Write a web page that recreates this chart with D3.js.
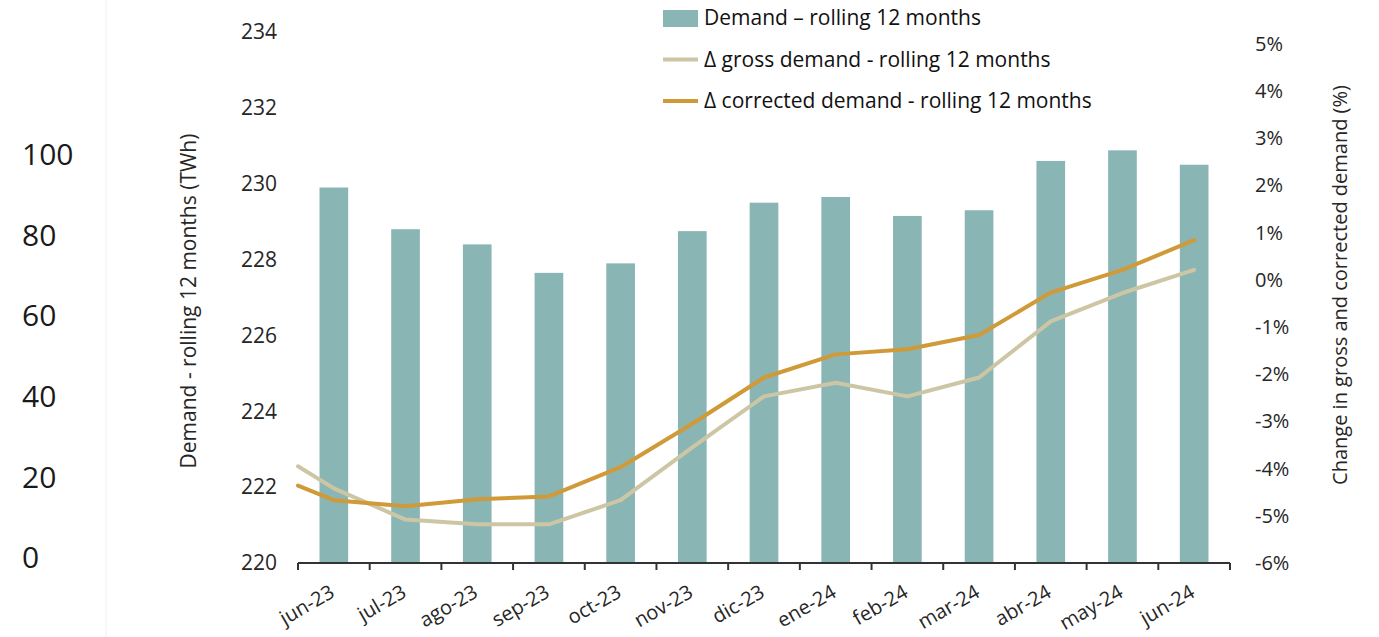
<!DOCTYPE html>
<html>
<head>
<meta charset="utf-8">
<script src="https://cdn.jsdelivr.net/npm/d3@7"></script>
<style>
  body { margin: 0; background: #fff; }
  svg { font-family: "Open Sans", sans-serif; }
</style>
</head>
<body>
<svg id="chart" width="1379" height="637"></svg>
<script>
// months on the category axis
const months = ["jun-23", "jul-23", "ago-23", "sep-23", "oct-23", "nov-23", "dic-23",
                "ene-24", "feb-24", "mar-24", "abr-24", "may-24", "jun-24"]
// rolling 12 month demand (TWh)
const demand = [229.9, 228.8, 228.4, 227.65, 227.9, 228.75, 229.5,
                229.65, 229.15, 229.3, 230.6, 230.88, 230.5]
// % change lines; first value sits on the left edge of the plot
const grossChange = [-3.95, -4.42, -5.08, -5.18, -5.18, -4.67, -3.55, -2.47,
                     -2.18, -2.47, -2.07, -0.88, -0.28, 0.21]
const correctedChange = [-4.36, -4.67, -4.80, -4.65, -4.59, -3.97, -3.05, -2.07,
                         -1.58, -1.47, -1.17, -0.27, 0.21, 0.84]
const leftTicks = [220, 222, 224, 226, 228, 230, 232, 234]
const rightTicks = [-6, -5, -4, -3, -2, -1, 0, 1, 2, 3, 4, 5]
const strayTicks = [0, 20, 40, 60, 80, 100]
const legendItems = ["Demand – rolling 12 months",
                     "Δ gross demand - rolling 12 months",
                     "Δ corrected demand - rolling 12 months"]

const svg = d3.select("#chart")
const plot = { left: 298, right: 1230, top: 32, bottom: 563 }

const x = d3.scaleBand().domain(months)
    .range([plot.left, plot.right])
    .paddingInner(0.6).paddingOuter(0.3)
const y = d3.scaleLinear().domain([220, 234]).range([plot.bottom, plot.top])
const y2 = d3.scaleLinear().domain([-6, 5.25]).range([plot.bottom, plot.top])
const yStray = d3.scaleLinear().domain([0, 100]).range([558, 155])

const barColor = "#8ab5b5"
const grossColor = "#cdc6a5"
const corrColor = "#cf9a37"
const textColor = "#262626"

// faint frame line on the far left
svg.append("line")
    .attr("x1", 106).attr("x2", 106).attr("y1", 0).attr("y2", 637)
    .attr("stroke", "#f0f0f0").attr("stroke-width", 1)

// stray 0-100 axis
svg.append("g")
    .attr("transform", "translate(22,0)")
    .call(d3.axisRight(yStray).tickValues(strayTicks).tickSize(0).tickPadding(0))
    .call(g => g.select(".domain").remove())
    .selectAll("text")
    .attr("font-size", 30).attr("fill", "#1a1a1a").attr("font-family", "Open Sans")

// bars
svg.append("g").selectAll("rect")
    .data(months)
    .join("rect")
    .attr("x", d => x(d))
    .attr("width", x.bandwidth())
    .attr("y", (d, i) => y(demand[i]))
    .attr("height", (d, i) => y(220) - y(demand[i]))
    .attr("fill", barColor)

// line positions: leading point on the left edge, then band centres
const lineX = i => i === 0 ? x.range()[0] : x(months[i - 1]) + x.bandwidth() / 2
const line = d3.line().x((d, i) => lineX(i)).y(d => y2(d))

svg.append("path")
    .datum(grossChange)
    .attr("fill", "none").attr("stroke", grossColor)
    .attr("stroke-width", 4).attr("stroke-linejoin", "round").attr("stroke-linecap", "round")
    .attr("d", line)

svg.append("path")
    .datum(correctedChange)
    .attr("fill", "none").attr("stroke", corrColor)
    .attr("stroke-width", 4).attr("stroke-linejoin", "round").attr("stroke-linecap", "round")
    .attr("d", line)

// x axis with ticks on band boundaries
const xAxis = svg.append("g").attr("transform", `translate(0,${plot.bottom})`)
xAxis.append("line")
    .attr("x1", plot.left).attr("x2", plot.right)
    .attr("stroke", "#333").attr("stroke-width", 2)
const bounds = months.map(m => x(m) - x.step() * x.paddingInner() / 2)
bounds.push(plot.right)
bounds[0] = plot.left
xAxis.selectAll("line.tick")
    .data(bounds)
    .join("line")
    .attr("class", "tick")
    .attr("x1", d => d).attr("x2", d => d)
    .attr("y1", 0).attr("y2", 7)
    .attr("stroke", "#333").attr("stroke-width", 2)
xAxis.selectAll("text")
    .data(months)
    .join("text")
    .attr("transform", d => `translate(${x(d) + x.bandwidth() / 2 + 2},${33}) rotate(-30)`)
    .attr("text-anchor", "end")
    .attr("font-size", 20)
    .attr("fill", textColor)
    .text(d => d)

// left axis
svg.append("g")
    .attr("transform", "translate(277,0)")
    .call(d3.axisLeft(y).tickValues(leftTicks).tickSize(0).tickPadding(0))
    .call(g => g.select(".domain").remove())
    .selectAll("text")
    .attr("font-size", 21).attr("fill", textColor).attr("font-family", "Open Sans")

// right axis
svg.append("g")
    .attr("transform", "translate(1255,0)")
    .call(d3.axisRight(y2).tickValues(rightTicks).tickSize(0).tickPadding(0)
        .tickFormat(d => d + "%"))
    .call(g => g.select(".domain").remove())
    .selectAll("text")
    .attr("font-size", 20).attr("fill", textColor).attr("font-family", "Open Sans")

// axis titles
svg.append("text")
    .attr("transform", "translate(196,301) rotate(-90)")
    .attr("text-anchor", "middle")
    .attr("font-size", 21).attr("fill", textColor)
    .text("Demand - rolling 12 months (TWh)")

svg.append("text")
    .attr("transform", "translate(1347,285) rotate(-90)")
    .attr("text-anchor", "middle")
    .attr("font-size", 20).attr("fill", textColor)
    .text("Change in gross and corrected demand (%)")

// legend
const legend = svg.append("g").attr("transform", "translate(663,18)")
legendItems.forEach((label, i) => {
    const row = legend.append("g").attr("transform", `translate(0,${i * 41.5})`)
    if (i === 0) {
        row.append("rect").attr("x", 0).attr("y", -8).attr("width", 35).attr("height", 17)
            .attr("fill", barColor)
    } else {
        row.append("line").attr("x1", 0).attr("x2", 35).attr("y1", 0).attr("y2", 0)
            .attr("stroke", i === 1 ? grossColor : corrColor).attr("stroke-width", 4)
    }
    row.append("text")
        .attr("x", 41).attr("y", 0).attr("dy", "0.35em")
        .attr("font-size", 21).attr("fill", "#111")
        .text(label)
})
</script>
</body>
</html>
